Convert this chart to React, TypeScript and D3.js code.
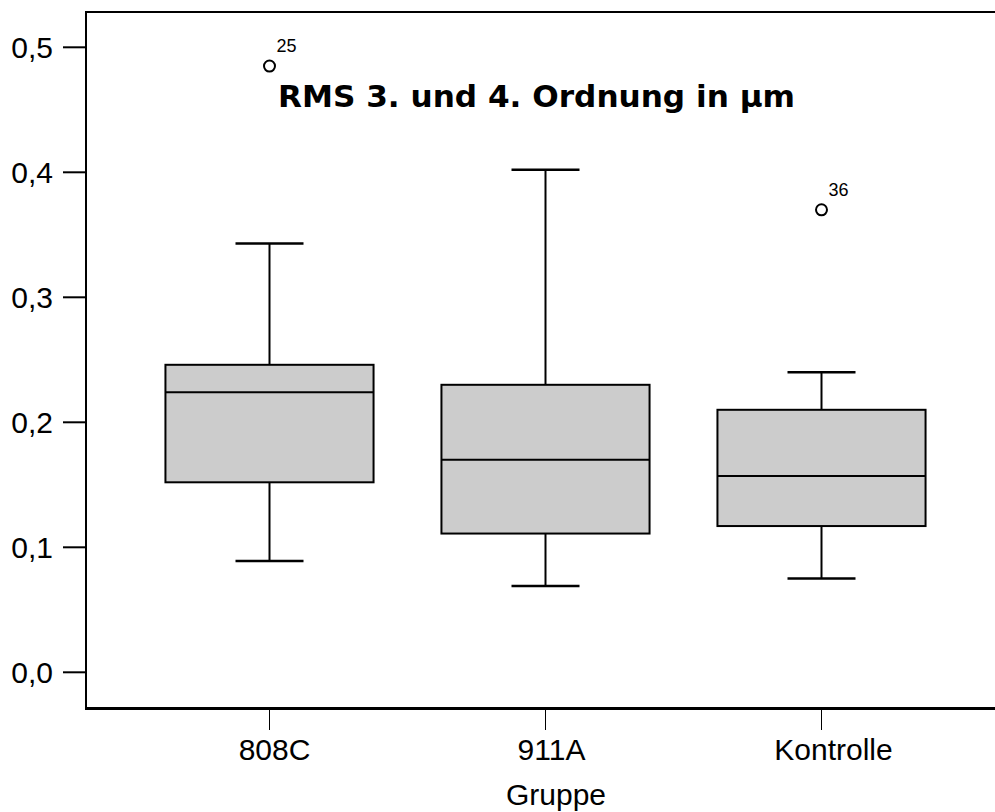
import React from "react";
import * as d3 from "d3";

// Box plot summaries per group (whisker low, Q1, median, Q3, whisker high)
const groups = ["808C", "911A", "Kontrolle"];
const whiskerLow = [0.089, 0.069, 0.075];
const q1 = [0.152, 0.111, 0.117];
const median = [0.224, 0.17, 0.157];
const q3 = [0.246, 0.23, 0.21];
const whiskerHigh = [0.343, 0.402, 0.24];

// Outliers: group, value, case label
const outlierGroup = ["808C", "Kontrolle"];
const outlierValue = [0.485, 0.37];
const outlierLabel = ["25", "36"];

const yTicks = [0, 0.1, 0.2, 0.3, 0.4, 0.5];

const title = "RMS 3. und 4. Ordnung in µm";
const xTitle = "Gruppe";

const W = 995;
const H = 812;
const left = 86;
const top = 12;
const bottom = 708.5;

const y = d3.scaleLinear().domain([0, 0.5]).range([672.3, 47.3]);
const x = d3.scaleBand<string>().domain(groups).range([131.5, 959.5]).padding(0);
const boxW = x.bandwidth() * 0.754;
const capW = 68;
// category labels sit slightly right of their tick marks
const labelShift = [5, 6, 12];

const fmt = (v: number) => d3.format(".1f")(v).replace(".", ",");
const sans = "'Liberation Sans', Arial, sans-serif";

export default function App() {
  const cx = (g: string) => (x(g) as number) + x.bandwidth() / 2;
  return (
    <div style={{ position: "absolute", left: 0, top: 0 }}>
      <svg width={W} height={H} style={{ display: "block", background: "#fff" }}>
        <rect width={W} height={H} fill="#fff" />
        {/* frame: top border, left axis, bottom axis */}
        <line x1={left} x2={W} y1={top} y2={top} stroke="#000" strokeWidth={2} />
        <line x1={left} x2={left} y1={top - 1} y2={bottom} stroke="#000" strokeWidth={2} />
        <line x1={left - 1} x2={W} y1={bottom} y2={bottom} stroke="#000" strokeWidth={3} />

        {/* y axis ticks */}
        {yTicks.map((t) => (
          <g key={t}>
            <line x1={63} x2={left} y1={y(t)} y2={y(t)} stroke="#000" strokeWidth={2} />
            <text x={53} y={y(t)} dy="0.36em" textAnchor="end" fontFamily={sans} fontSize={30} fill="#000">
              {fmt(t)}
            </text>
          </g>
        ))}

        {/* x axis ticks */}
        {groups.map((g, i) => (
          <g key={g}>
            <line x1={cx(g)} x2={cx(g)} y1={bottom} y2={730} stroke="#000" strokeWidth={1} />
            <text x={cx(g) + labelShift[i]} y={760} textAnchor="middle" fontFamily={sans} fontSize={30} fill="#000">
              {g}
            </text>
          </g>
        ))}
        <text x={556} y={805} textAnchor="middle" fontFamily={sans} fontSize={30} fill="#000">
          {xTitle}
        </text>

        {/* boxes */}
        {groups.map((g, i) => {
          const c = cx(g);
          return (
            <g key={g} stroke="#000">
              <line x1={c} x2={c} y1={y(whiskerHigh[i])} y2={y(q3[i])} strokeWidth={2} />
              <line x1={c} x2={c} y1={y(q1[i])} y2={y(whiskerLow[i])} strokeWidth={2} />
              <line x1={c - capW / 2} x2={c + capW / 2} y1={y(whiskerHigh[i])} y2={y(whiskerHigh[i])} strokeWidth={2.5} />
              <line x1={c - capW / 2} x2={c + capW / 2} y1={y(whiskerLow[i])} y2={y(whiskerLow[i])} strokeWidth={2.5} />
              <rect
                x={c - boxW / 2}
                y={y(q3[i])}
                width={boxW}
                height={y(q1[i]) - y(q3[i])}
                fill="#cccccc"
                strokeWidth={2}
              />
              <line x1={c - boxW / 2} x2={c + boxW / 2} y1={y(median[i])} y2={y(median[i])} strokeWidth={2} />
            </g>
          );
        })}

        {/* outliers */}
        {outlierGroup.map((g, i) => {
          const c = cx(g);
          const py = y(outlierValue[i]);
          return (
            <g key={i}>
              <circle cx={c} cy={py} r={5.5} fill="none" stroke="#000" strokeWidth={2} />
              <text x={c + 7} y={py - 14} fontFamily={sans} fontSize={18} fill="#000">
                {outlierLabel[i]}
              </text>
            </g>
          );
        })}

        {/* chart title */}
        <text
          x={278}
          y={107}
          textLength={517}
          lengthAdjust="spacingAndGlyphs"
          fontFamily="'DejaVu Sans', Verdana, sans-serif"
          fontWeight="bold"
          fontSize={30}
          fill="#000"
        >
          {title}
        </text>
      </svg>
    </div>
  );
}
